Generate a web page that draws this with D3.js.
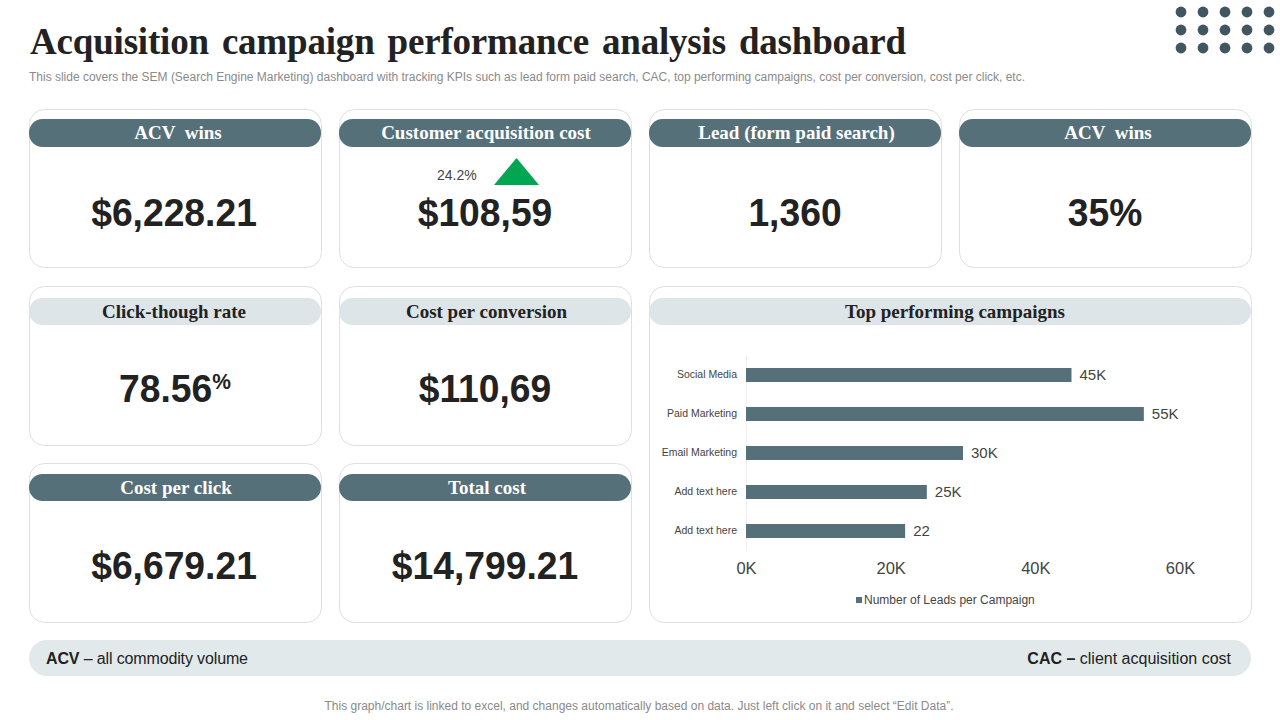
<!DOCTYPE html>
<html>
<head>
<meta charset="utf-8">
<script src="https://cdn.jsdelivr.net/npm/d3@7"></script>
<style>
  html, body { margin: 0; padding: 0; background: #fff; }
  svg { display: block; }
  text { font-family: "Liberation Sans", Arial, sans-serif; white-space: pre; }
  .serif { font-family: "Liberation Serif", "Times New Roman", serif; font-weight: 700; }
</style>
</head>
<body>
<div id="chart"></div>
<script>
/*****************************************************
 * DATA
 *****************************************************/
const titleText = "Acquisition campaign performance analysis dashboard";
const subtitleText = "This slide covers the SEM (Search Engine Marketing) dashboard with tracking KPIs such as lead form paid search, CAC, top performing campaigns, cost per conversion, cost per click, etc.";
const footnoteText = "This graph/chart is linked to excel, and changes automatically based on data. Just left click on it and select \u201cEdit Data\u201d.";

const kpiTitles = ["ACV  wins", "Customer acquisition cost", "Lead (form paid search)", "ACV  wins",
  "Click-though rate", "Cost per conversion", "Cost per click", "Total cost"];
const kpiValues = ["$6,228.21", "$108,59", "1,360", "35%", "78.56", "$110,69", "$6,679.21", "$14,799.21"];

const campaigns = ["Social Media", "Paid Marketing", "Email Marketing", "Add text here", "Add text here"];
const leads = [45, 55, 30, 25, 22];
const leadLabels = ["45K", "55K", "30K", "25K", "22"];
const leadTicks = [0, 20, 40, 60];
const legendLabel = "Number of Leads per Campaign";
const chartTitle = "Top performing campaigns";

const changeLabel = "24.2%";

/*****************************************************
 * LAYOUT
 *****************************************************/
const DARK = "#56707a", LIGHT = "#dde5e8", BORDER = "#dfdfdf", INK = "#222222";

const colX = [29, 339, 649, 959];
const rows = [
  { top: 109.5, bottom: 267.5, pill: 119, pillH: 28, valueY: 213 },
  { top: 286.5, bottom: 445.5, pill: 298, pillH: 27, valueY: 389 },
  { top: 463.5, bottom: 622.5, pill: 474, pillH: 27, valueY: 566 }
];
const cardW = 293;

// [column, row, dark header, header text nudge]
const kpiSlots = [
  [0, 0, true, 3], [1, 0, true, 1], [2, 0, true, 1.5], [3, 0, true, 3],
  [0, 1, false, -1], [1, 1, false, 1.5],
  [0, 2, true, 1], [1, 2, true, 2]
];

const svg = d3.select("#chart").append("svg")
  .attr("width", 1280)
  .attr("height", 720);

/*****************************************************
 * HEADER
 *****************************************************/
svg.append("text")
  .attr("class", "serif")
  .attr("x", 30)
  .attr("y", 54)
  .attr("font-size", 37)
  .attr("fill", INK)
  .attr("textLength", 876)
  .attr("word-spacing", 4)
  .text(titleText);

svg.append("text")
  .attr("x", 29)
  .attr("y", 81)
  .attr("font-size", 12)
  .attr("fill", "#8a8a8a")
  .attr("textLength", 996)
  .text(subtitleText);

// dots top right
const dotX = d3.range(5).map(i => 1181 + i * 22);
const dotY = [12, 30, 48];
svg.append("g")
  .selectAll("circle")
  .data(d3.cross(dotX, dotY))
  .join("circle")
  .attr("cx", d => d[0])
  .attr("cy", d => d[1])
  .attr("r", 5.4)
  .attr("fill", "#41565f");

/*****************************************************
 * KPI CARDS
 *****************************************************/
function drawCard(x, w, row, dark, label, labelX) {
  svg.append("rect")
    .attr("x", x + 0.5)
    .attr("y", row.top)
    .attr("width", w - 1)
    .attr("height", row.bottom - row.top)
    .attr("rx", 15)
    .attr("fill", "#fff")
    .attr("stroke", BORDER);

  svg.append("rect")
    .attr("x", x)
    .attr("y", row.pill)
    .attr("width", w - 1)
    .attr("height", row.pillH)
    .attr("rx", 13.5)
    .attr("fill", dark ? DARK : LIGHT);

  svg.append("text")
    .attr("class", "serif")
    .attr("x", labelX)
    .attr("y", row.pill + row.pillH / 2 + 6)
    .attr("text-anchor", "middle")
    .attr("font-size", 19)
    .attr("fill", dark ? "#fff" : INK)
    .text(label);
}

kpiSlots.forEach((slot, i) => {
  const x = colX[slot[0]], row = rows[slot[1]];
  drawCard(x, cardW, row, slot[2], kpiTitles[i], x + 146 + slot[3]);

  // figures in the reference are slightly tall and narrow
  const cx = x + (slot[0] > 0 || kpiTitles[i] === "Click-though rate" ? 146 : 145);
  const value = svg.append("text")
    .attr("transform", `translate(${cx},${row.valueY + 12.5}) scale(0.955,1)`)
    .attr("text-anchor", "middle")
    .attr("font-size", 39)
    .attr("font-weight", 700)
    .attr("fill", INK)
    .text(kpiValues[i]);

  // click-through rate carries a small raised percent sign
  if (kpiTitles[i] === "Click-though rate") {
    value.append("tspan")
      .attr("font-size", 22)
      .attr("dy", -13)
      .text("%");
  }
});

// change marker in the CAC card
svg.append("text")
  .attr("x", 437)
  .attr("y", 180)
  .attr("font-size", 14)
  .attr("fill", "#444")
  .text(changeLabel);

svg.append("path")
  .attr("d", d3.line()([[494, 185], [516.5, 158], [539, 185]]) + "Z")
  .attr("fill", "#00a651");

/*****************************************************
 * TOP PERFORMING CAMPAIGNS
 *****************************************************/
drawCard(649, 603, { top: 286.5, bottom: 622.5, pill: 298, pillH: 27 }, false, chartTitle, 955);

const x = d3.scaleLinear().domain([0, 60]).range([746, 1180]);
const y = d3.scaleBand()
  .domain(d3.range(campaigns.length))
  .range([355.5, 550.5])
  .paddingInner(0.641)
  .paddingOuter(0.3205);

const xAxis = svg.append("g")
  .attr("transform", "translate(0,552)")
  .call(d3.axisBottom(x).tickValues(leadTicks).tickSize(0).tickFormat(d => d + "K"));
xAxis.select(".domain").remove();
xAxis.selectAll("text")
  .attr("y", 10)
  .attr("font-family", "Liberation Sans")
  .attr("font-size", 16.5)
  .attr("fill", "#444");

const yAxis = svg.append("g")
  .attr("transform", "translate(746,0)")
  .call(d3.axisLeft(y).tickSize(0).tickPadding(9).tickFormat(i => campaigns[i]));
yAxis.select(".domain").attr("stroke", "#eeeeee");
yAxis.selectAll("text")
  .attr("font-family", "Liberation Sans")
  .attr("font-size", 10.5)
  .attr("fill", "#444");

svg.append("g")
  .selectAll("rect")
  .data(leads)
  .join("rect")
  .attr("x", x(0))
  .attr("y", (d, i) => y(i))
  .attr("width", d => x(d) - x(0))
  .attr("height", y.bandwidth())
  .attr("fill", DARK);

svg.append("g")
  .selectAll("text")
  .data(leads)
  .join("text")
  .attr("x", d => x(d) + 8)
  .attr("y", (d, i) => y(i) + y.bandwidth() / 2 + 5)
  .attr("font-size", 15)
  .attr("fill", "#444")
  .text((d, i) => leadLabels[i]);

// legend
svg.append("rect")
  .attr("x", 856)
  .attr("y", 597)
  .attr("width", 6)
  .attr("height", 6)
  .attr("fill", DARK);

svg.append("text")
  .attr("x", 864)
  .attr("y", 604)
  .attr("font-size", 12)
  .attr("fill", "#444")
  .text(legendLabel);

/*****************************************************
 * FOOTER
 *****************************************************/
svg.append("rect")
  .attr("x", 29)
  .attr("y", 640)
  .attr("width", 1222)
  .attr("height", 36)
  .attr("rx", 18)
  .attr("fill", "#e2e9eb");

const leftNote = svg.append("text")
  .attr("x", 46)
  .attr("y", 664)
  .attr("font-size", 16)
  .attr("fill", INK)
  .attr("textLength", 202);
leftNote.append("tspan").attr("font-weight", 700).text("ACV");
leftNote.append("tspan").text(" \u2013 all commodity volume");

const rightNote = svg.append("text")
  .attr("x", 1231)
  .attr("y", 664)
  .attr("text-anchor", "end")
  .attr("font-size", 16)
  .attr("fill", INK);
rightNote.append("tspan").attr("font-weight", 700).text("CAC \u2013");
rightNote.append("tspan").text(" client acquisition cost");

svg.append("text")
  .attr("x", 639)
  .attr("y", 710)
  .attr("text-anchor", "middle")
  .attr("font-size", 12)
  .attr("fill", "#8a8a8a")
  .text(footnoteText);
</script>
</body>
</html>
